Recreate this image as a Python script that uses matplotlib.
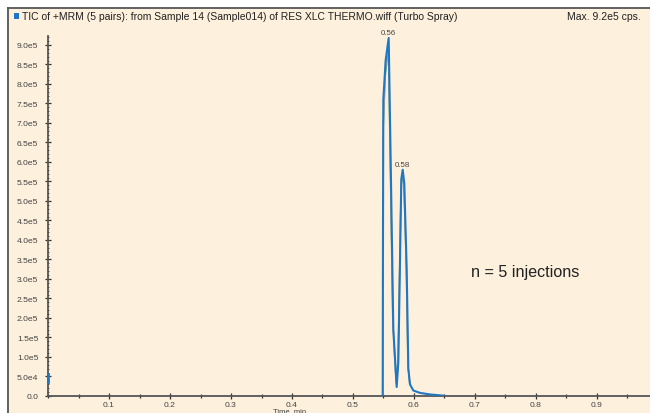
import matplotlib
matplotlib.use("Agg")
import matplotlib.pyplot as plt
from matplotlib.patches import Rectangle
from matplotlib.lines import Line2D
from matplotlib.ticker import FixedLocator, FixedFormatter, MultipleLocator

plt.rcParams['font.family'] = ['Liberation Sans', 'DejaVu Sans']

# ---- data ----
title_text = "TIC of +MRM (5 pairs): from Sample 14 (Sample014) of RES XLC THERMO.wiff (Turbo Spray)"
max_text = "Max. 9.2e5 cps."
annotation = "n = 5 injections"
xlabel = "Time, min"

time_blue = [0.5487, 0.5490, 0.5497, 0.5535, 0.5585, 0.5618, 0.5661, 0.5716,
             0.5743, 0.5770, 0.5792, 0.5815, 0.5841, 0.5880, 0.5907, 0.5934,
             0.5989, 0.6098, 0.6262, 0.6480]
tic_blue = [0, 3.0e5, 7.6e5, 8.6e5, 9.18e5, 6.0e5, 1.7e5, 2.3e4,
            8.7e4, 3.4e5, 5.56e5, 5.8e5, 5.45e5, 3.25e5, 7.0e4, 3.0e4,
            1.4e4, 8.0e3, 4.0e3, 1.0e3]

time_green = [0.5487, 0.5495, 0.5530, 0.5580, 0.5608, 0.5650, 0.5706,
              0.5738, 0.5765, 0.5788, 0.5810, 0.5836, 0.5872, 0.5900, 0.5930]
tic_green = [0, 6.8e5, 8.2e5, 8.9e5, 6.2e5, 2.0e5, 3.5e4,
             9.5e4, 3.3e5, 5.4e5, 5.7e5, 5.3e5, 3.4e5, 8.0e4, 3.2e4]

time_pink = [0.5487, 0.5496, 0.5532, 0.5582, 0.5612, 0.5655, 0.5710,
             0.5740, 0.5767, 0.5790, 0.5812, 0.5838, 0.5876, 0.5903, 0.5932]
tic_pink = [0, 7.0e5, 8.4e5, 9.0e5, 6.1e5, 1.9e5, 3.0e4,
            9.0e4, 3.35e5, 5.5e5, 5.75e5, 5.35e5, 3.3e5, 7.5e4, 3.1e4]

# small segment at time 0
time_start = [0.0, 0.0]
tic_start = [3.6e4, 5.6e4]

peak_times = [0.5585, 0.5815]
peak_values = [9.18e5, 5.8e5]
peak_labels = ["0.56", "0.58"]

ytick_values = [0, 5e4, 1e5, 1.5e5, 2e5, 2.5e5, 3e5, 3.5e5, 4e5, 4.5e5, 5e5,
                5.5e5, 6e5, 6.5e5, 7e5, 7.5e5, 8e5, 8.5e5, 9e5]
ytick_labels = ["0.0", "5.0e4", "1.0e5", "1.5e5", "2.0e5", "2.5e5", "3.0e5",
                "3.5e5", "4.0e5", "4.5e5", "5.0e5", "5.5e5", "6.0e5", "6.5e5",
                "7.0e5", "7.5e5", "8.0e5", "8.5e5", "9.0e5"]
xtick_values = [0.1, 0.2, 0.3, 0.4, 0.5, 0.6, 0.7, 0.8, 0.9]
xtick_labels = ["0.1", "0.2", "0.3", "0.4", "0.5", "0.6", "0.7", "0.8", "0.9"]

# ---- figure ----
W, H = 650, 414
fig = plt.figure(figsize=(6.5, 4.14), dpi=100)
fig.patch.set_facecolor('white')

cream = '#fdf0dc'
frame_col = '#555555'
fig.add_artist(Rectangle((8 / W, 0), 1, 1 - 9 / H, transform=fig.transFigure,
                         facecolor=cream, edgecolor='none', zorder=0))
fig.add_artist(Line2D([8 / W, 1], [1 - 9 / H, 1 - 9 / H], transform=fig.transFigure,
                      color=frame_col, lw=1.3, zorder=1))
fig.add_artist(Line2D([8 / W, 8 / W], [0, 1 - 9 / H], transform=fig.transFigure,
                      color=frame_col, lw=1.3, zorder=1))

# title bar
fig.add_artist(Rectangle((14 / W, 1 - 20 / H), 5 / W, 6 / H, transform=fig.transFigure,
                         facecolor='#1f77c4', edgecolor='none'))
fig.text(22 / W, 1 - 16.5 / H, title_text, fontsize=7.45, color='#222222',
         va='center', ha='left')
fig.text(641 / W, 1 - 16.5 / H, max_text, fontsize=7.45, color='#222222',
         va='center', ha='right')

ax_left, ax_right = 48, 650
ax_bottom, ax_top = 397, 37
ax = fig.add_axes([ax_left / W, 1 - ax_bottom / H, (ax_right - ax_left) / W,
                   (ax_bottom - ax_top) / H])
ax.set_facecolor('none')
xmax = (ax_right - ax_left) / 610.0
ax.set_xlim(0, xmax)
ax.set_ylim(0, 9.23e5)

ax.plot(time_green, tic_green, color='#4f9a55', lw=1.0, alpha=0.8, zorder=2)
ax.plot(time_pink, tic_pink, color='#d9a3a3', lw=1.0, alpha=0.8, zorder=2)
ax.plot(time_blue, tic_blue, color='#1f77c4', lw=1.5, zorder=3)
ax.plot(time_start, tic_start, color='#1f77c4', lw=2.0, zorder=3, clip_on=False)

for t, v, lab in zip(peak_times, peak_values, peak_labels):
    ax.annotate(lab, (t, v), xytext=(0, 1.5), textcoords='offset points',
                ha='center', va='bottom', fontsize=5.7, color='#444444')

ax.text(471 / W, 1 - 272 / H, annotation, transform=fig.transFigure,
        fontsize=11.6, color='#222222', va='center', ha='left')

for s in ['top', 'right']:
    ax.spines[s].set_visible(False)
for s in ['left', 'bottom']:
    ax.spines[s].set_color(frame_col)
    ax.spines[s].set_linewidth(1.3)

ax.yaxis.set_major_locator(FixedLocator(ytick_values))
ax.yaxis.set_major_formatter(FixedFormatter(ytick_labels))
ax.yaxis.set_minor_locator(MultipleLocator(1e4))
ax.xaxis.set_major_locator(FixedLocator(xtick_values))
ax.xaxis.set_major_formatter(FixedFormatter(xtick_labels))
ax.xaxis.set_minor_locator(MultipleLocator(0.05))

ax.tick_params(axis='both', which='major', direction='inout', length=4, width=0.9,
               color='#333333', labelsize=6.1, labelcolor='#444444', pad=1.5)
ax.tick_params(axis='y', which='minor', direction='inout', length=2, width=0.6,
               color='#333333')
ax.tick_params(axis='x', which='minor', direction='inout', length=3, width=0.9,
               color='#333333')
ax.tick_params(axis='y', which='major', pad=5)

ax.text(290 / W, 1 - 411.5 / H, xlabel, transform=fig.transFigure, fontsize=5.5,
        color='#444444', ha='center', va='center')

fig.savefig('out.png', dpi=100)
